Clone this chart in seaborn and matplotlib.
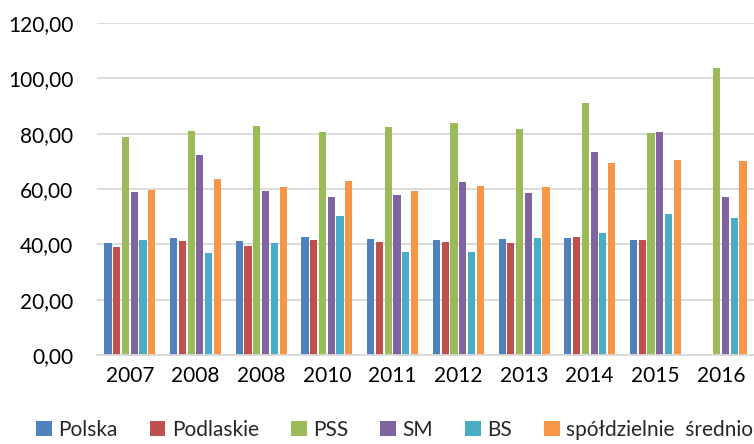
import numpy as np
import pandas as pd
import matplotlib
matplotlib.use("Agg")
import matplotlib.pyplot as plt
import seaborn as sns

years = ["2007", "2008", "2008", "2010", "2011", "2012", "2013", "2014", "2015", "2016"]
series_names = ["Polska", "Podlaskie", "PSS", "SM", "BS", "spółdzielnie  średnio"]

polska = [40.4, 42.3, 41.2, 42.8, 41.9, 41.7, 41.9, 42.2, 41.6, np.nan]
podlaskie = [39.0, 41.2, 39.5, 41.6, 40.7, 40.8, 40.5, 42.7, 41.6, np.nan]
pss = [78.8, 81.0, 82.8, 80.7, 82.4, 83.7, 81.7, 91.1, 80.1, 103.6]
sm = [58.9, 72.3, 59.4, 57.3, 57.8, 62.7, 58.4, 73.5, 80.7, 57.1]
bs = [41.7, 37.0, 40.4, 50.4, 37.3, 37.1, 42.3, 44.0, 51.0, 49.4]
srednio = [59.8, 63.5, 60.8, 62.8, 59.3, 61.1, 60.8, 69.4, 70.6, 70.1]

colors = ["#4F81BD", "#C0504D", "#9BBB59", "#8064A2", "#4BACC6", "#F79646"]

values = [polska, podlaskie, pss, sm, bs, srednio]
rows = []
for name, vals in zip(series_names, values):
    for i, v in enumerate(vals):
        rows.append({"okres": i, "seria": name, "wartosc": v})
df = pd.DataFrame(rows)

sns.set_theme(style="white")
plt.rcParams["font.family"] = ["Lato", "DejaVu Sans"]

fig, ax = plt.subplots(figsize=(7.54, 4.44), dpi=100)
fig.subplots_adjust(left=0.1286, right=1.0, top=0.948, bottom=0.2005)

sns.barplot(data=df, x="okres", y="wartosc", hue="seria", hue_order=series_names,
            palette=colors, errorbar=None, width=0.8, gap=0.18, ax=ax,
            edgecolor="none", saturation=1)

ax.set_ylim(0, 120)
ax.set_yticks(np.arange(0, 121, 20))
ax.set_yticklabels([f"{v:.2f}".replace(".", ",") for v in np.arange(0, 121, 20)])
ax.set_xticks(range(len(years)))
ax.set_xticklabels(years)
ax.set_xlim(-0.5, len(years) - 0.5)
ax.set_xlabel("")
ax.set_ylabel("")
ax.tick_params(axis="both", labelsize=15, colors="#000000", length=0)
ax.tick_params(axis="x", pad=8)
ax.tick_params(axis="y", pad=17)
ax.yaxis.grid(True, color="#D9D9D9", linewidth=1.3)
ax.set_axisbelow(True)
for s in ["left", "right", "top"]:
    ax.spines[s].set_visible(False)
ax.spines["bottom"].set_color("#D9D9D9")
ax.spines["bottom"].set_linewidth(1.3)

handles, labels = ax.get_legend_handles_labels()
ax.legend(handles, labels, loc="center", bbox_to_anchor=(0.453, -0.226),
          ncol=6, frameon=False, fontsize=15, handlelength=0.75, handleheight=0.75,
          handletextpad=0.3, columnspacing=1.55, borderaxespad=0, borderpad=0)

fig.savefig("out.png", dpi=100)
